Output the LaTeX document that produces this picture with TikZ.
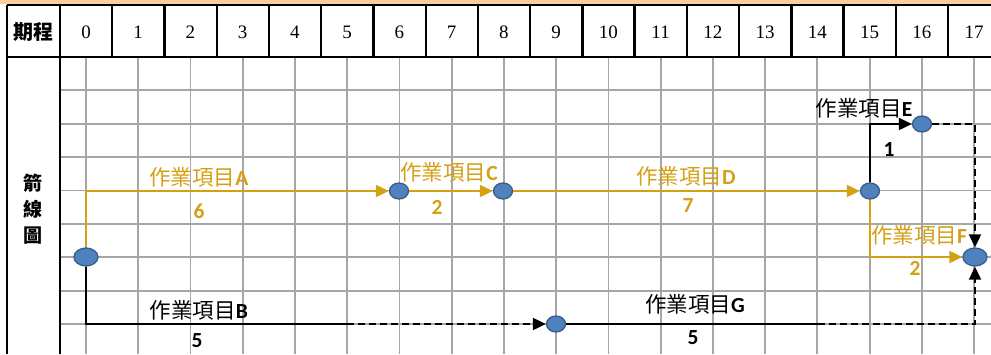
\documentclass[tikz,border=0pt]{standalone}
\usepackage{fontspec}
\setmainfont{Liberation Serif}
\newfontfamily\cjk{Noto Sans CJK TC}
\newfontfamily\lat{Carlito}
\usetikzlibrary{shapes.geometric,arrows.meta}
\definecolor{ora}{RGB}{212,160,20}
\definecolor{evfill}{RGB}{79,129,189}
\definecolor{evdraw}{RGB}{56,93,138}
\definecolor{gridg}{RGB}{166,166,166}
\definecolor{strip}{RGB}{252,205,160}
\newcommand\job[1]{{\cjk 作業項目}{\lat\bfseries #1}}
\tikzset{
  evt/.style={ellipse,draw=evdraw,fill=evfill,line width=1.3pt,minimum width=19pt,minimum height=16pt,inner sep=0pt},
  bigevt/.style={evt,minimum width=24pt,minimum height=18pt},
  oline/.style={draw=ora,line width=2pt},
  bline/.style={draw=black,line width=2pt},
  tip/.style={-{Triangle[length=13pt,width=12pt]}},
  dashline/.style={dash pattern=on 7pt off 4pt},
  olbl/.style={text=ora,font=\fontsize{21.5}{24}\selectfont,inner sep=0pt},
  blbl/.style={text=black,font=\fontsize{21.5}{24}\selectfont,inner sep=0pt},
  onum/.style={text=ora,font=\fontsize{21.5}{24}\selectfont\lat\bfseries,inner sep=0pt},
  bnum/.style={text=black,font=\fontsize{21.5}{24}\selectfont\lat\bfseries,inner sep=0pt},
  hdr/.style={font=\fontsize{19}{22}\selectfont,inner sep=0pt},
}
\begin{document}
\begin{tikzpicture}[x=1pt,y=-1pt]
\useasboundingbox (0,0) rectangle (991,354);
\fill[white] (0,0) rectangle (991,354);
\fill[strip] (0,0) rectangle (991,4);
% grid
\foreach \k in {0,...,17} \draw[gridg,line width=1.8pt] ({86+52.24*\k},57) -- ({86+52.24*\k},354);
\foreach \j in {1,...,8} \draw[gridg,line width=1.8pt] (60,{57+33.375*\j}) -- (991,{57+33.375*\j});
% table lines
\draw[line width=2.3pt] (7,5) -- (991,5);
\draw[line width=2.3pt] (7,57) -- (991,57);
\draw[line width=2.3pt] (7,5) -- (7,354);
\draw[line width=2.3pt] (60,5) -- (60,354);
\foreach \k in {1,...,17} \draw[line width=2.3pt] ({60+52.24*\k},5) -- ({60+52.24*\k},57);
% header texts
\node[font=\fontsize{20}{24}\selectfont\cjk\bfseries,inner sep=0pt] (hd) at (33,32) {期程};
\foreach \k in {0,...,17} \node[hdr] (h\k) at ({86+52.24*\k},32) {\k};
\node[font=\fontsize{19}{26}\selectfont\cjk\bfseries,align=center,inner sep=0pt] (side) at (33,209) {箭\\線\\圖};
% events
\node[bigevt] (N0) at (86,257) {};
\node[evt] (N1) at (399,191) {};
\node[evt] (N2) at (503,191) {};
\node[evt] (N3) at (870,191) {};
\node[evt] (N4) at (922,124) {};
\node[bigevt] (N5) at (975,257) {};
\node[evt] (N6) at (556,324) {};
\coordinate (bmid) at (347,324);
\coordinate (gmid) at (818,324);
% connectors
\draw[oline,tip] (N0) |- (N1);
\draw[oline,tip] (N1) -- (N2);
\draw[oline,tip] (N2) -- (N3);
\draw[bline,tip] (N3) |- (N4);
\draw[oline,tip] (N3) |- (N5);
\draw[bline,dashline,tip] (N4) -| (N5);
\draw[bline] (N0) |- (bmid);
\draw[bline,dashline,tip] (bmid) -- (N6);
\draw[bline] (N6) -- (gmid);
\draw[bline,dashline,tip] (gmid) -| (N5);
% labels
\node[olbl] (lA) at (199,177) {\job{A}};
\node[onum] (nA) at (199,211) {6};
\node[olbl] (lC) at (449,172) {\job{C}};
\node[onum] (nC) at (437,207) {2};
\node[olbl] (lD) at (686,176) {\job{D}};
\node[onum] (nD) at (688,206) {7};
\node[blbl] (lE) at (864,108) {\job{E}};
\node[bnum] (nE) at (889,150) {1};
\node[olbl] (lF) at (919,235) {\job{F}};
\node[onum] (nF) at (915,268) {2};
\node[blbl] (lB) at (199,310) {\job{B}};
\node[bnum] (nB) at (197,341) {5};
\node[blbl] (lG) at (695,304) {\job{G}};
\node[bnum] (nG) at (693,338) {5};
\end{tikzpicture}
\end{document}
